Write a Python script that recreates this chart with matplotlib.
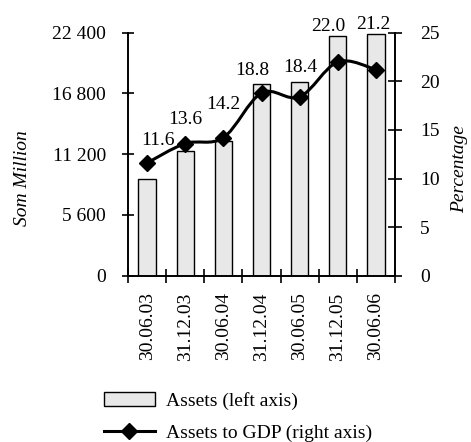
import matplotlib.pyplot as plt
from matplotlib.path import Path
from matplotlib.patches import PathPatch, Patch
from matplotlib.lines import Line2D

plt.rcParams['font.family'] = ['Liberation Serif', 'DejaVu Serif']
plt.rcParams['font.size'] = 14

# data
dates = ['30.06.03', '31.12.03', '30.06.04', '31.12.04', '30.06.05', '31.12.05', '30.06.06']
assets = [8900, 11450, 12450, 17650, 17900, 22100, 22300]   # Som million
gdp_share = [11.6, 13.6, 14.2, 18.8, 18.4, 22.0, 21.2]      # percent
left_ticks = [0, 5600, 11200, 16800, 22400]
left_labels = ['0', '5 600', '11 200', '16 800', '22 400']
right_ticks = [0, 5, 10, 15, 20, 25]

# label nudges in pixels (dx, dy) to mimic the original placement
label_offsets = [(11, 14), (0, 16), (0, 25), (-9, 14), (1, 21), (-10, 27), (-3, 37)]

fig = plt.figure(figsize=(4.71, 4.42), dpi=100)
ax = fig.add_axes([128 / 471, 1 - 275.7 / 442, 267 / 471, 243 / 442])
ax2 = ax.twinx()

x = list(range(len(dates)))
ax.bar(x, assets, width=0.45, color='#e8e8e8', edgecolor='black', linewidth=1.0, zorder=2)
ax.set_xlim(-0.5, len(dates) - 0.5)
ax.set_ylim(0, 22400)
ax.set_yticks(left_ticks)
ax.set_yticklabels(left_labels)
ax.set_xticks([i - 0.5 for i in range(len(dates) + 1)])
ax.set_xticklabels([])
ax.set_xticks(x, minor=True)
ax.set_xticklabels(dates, minor=True, rotation=90)
ax.tick_params(axis='x', which='major', direction='inout', length=10, width=1.2)
ax.tick_params(axis='x', which='minor', length=0, pad=12)
ax.tick_params(axis='y', direction='inout', length=8, width=1.2, pad=12)
ax.set_ylabel('Som Million', style='italic')
ax.yaxis.set_label_coords(-0.365, 0.40)

ax2.set_ylim(0, 25)
ax2.set_yticks(right_ticks)
ax2.tick_params(axis='y', direction='inout', length=10, width=1.2, pad=13)
ax2.set_ylabel('Percentage', style='italic', rotation=90)
ax2.yaxis.set_label_coords(1.21, 0.44)

for a in (ax, ax2):
    a.spines['top'].set_visible(False)
    for s in ('left', 'right', 'bottom'):
        a.spines[s].set_linewidth(1.2)

# smoothed line (Catmull-Rom as cubic Bezier)
pts = list(zip(x, gdp_share))
verts = [pts[0]]
codes = [Path.MOVETO]
n = len(pts)
for i in range(n - 1):
    p0 = pts[i - 1] if i > 0 else pts[i]
    p1 = pts[i]
    p2 = pts[i + 1]
    p3 = pts[i + 2] if i + 2 < n else pts[i + 1]
    c1 = (p1[0] + (p2[0] - p0[0]) / 6, p1[1] + (p2[1] - p0[1]) / 6)
    c2 = (p2[0] - (p3[0] - p1[0]) / 6, p2[1] - (p3[1] - p1[1]) / 6)
    verts += [c1, c2, p2]
    codes += [Path.CURVE4] * 3
ax2.add_patch(PathPatch(Path(verts, codes), fill=False, edgecolor='black', linewidth=2.2, zorder=3))
ax2.plot(x, gdp_share, linestyle='none', marker='D', markersize=8, color='black', zorder=4)

for xi, v, (dx, dy) in zip(x, gdp_share, label_offsets):
    ax2.annotate(f'{v:.1f}', (xi, v), xytext=(dx, dy), textcoords='offset pixels',
                 ha='center', va='bottom', fontsize=14)

handles = [Patch(facecolor='#e8e8e8', edgecolor='black', linewidth=1.0),
           Line2D([], [], color='black', linewidth=2.2, marker='D', markersize=8)]
fig.legend(handles, ['Assets (left axis)', 'Assets to GDP (right axis)'],
           loc='upper left', bbox_to_anchor=(104 / 471, 1 - 392 / 442), frameon=False,
           handlelength=2.6, handleheight=0.72, handletextpad=0.6, labelspacing=0.72,
           borderpad=0, borderaxespad=0, fontsize=14)

fig.savefig('out.png', dpi=100)
